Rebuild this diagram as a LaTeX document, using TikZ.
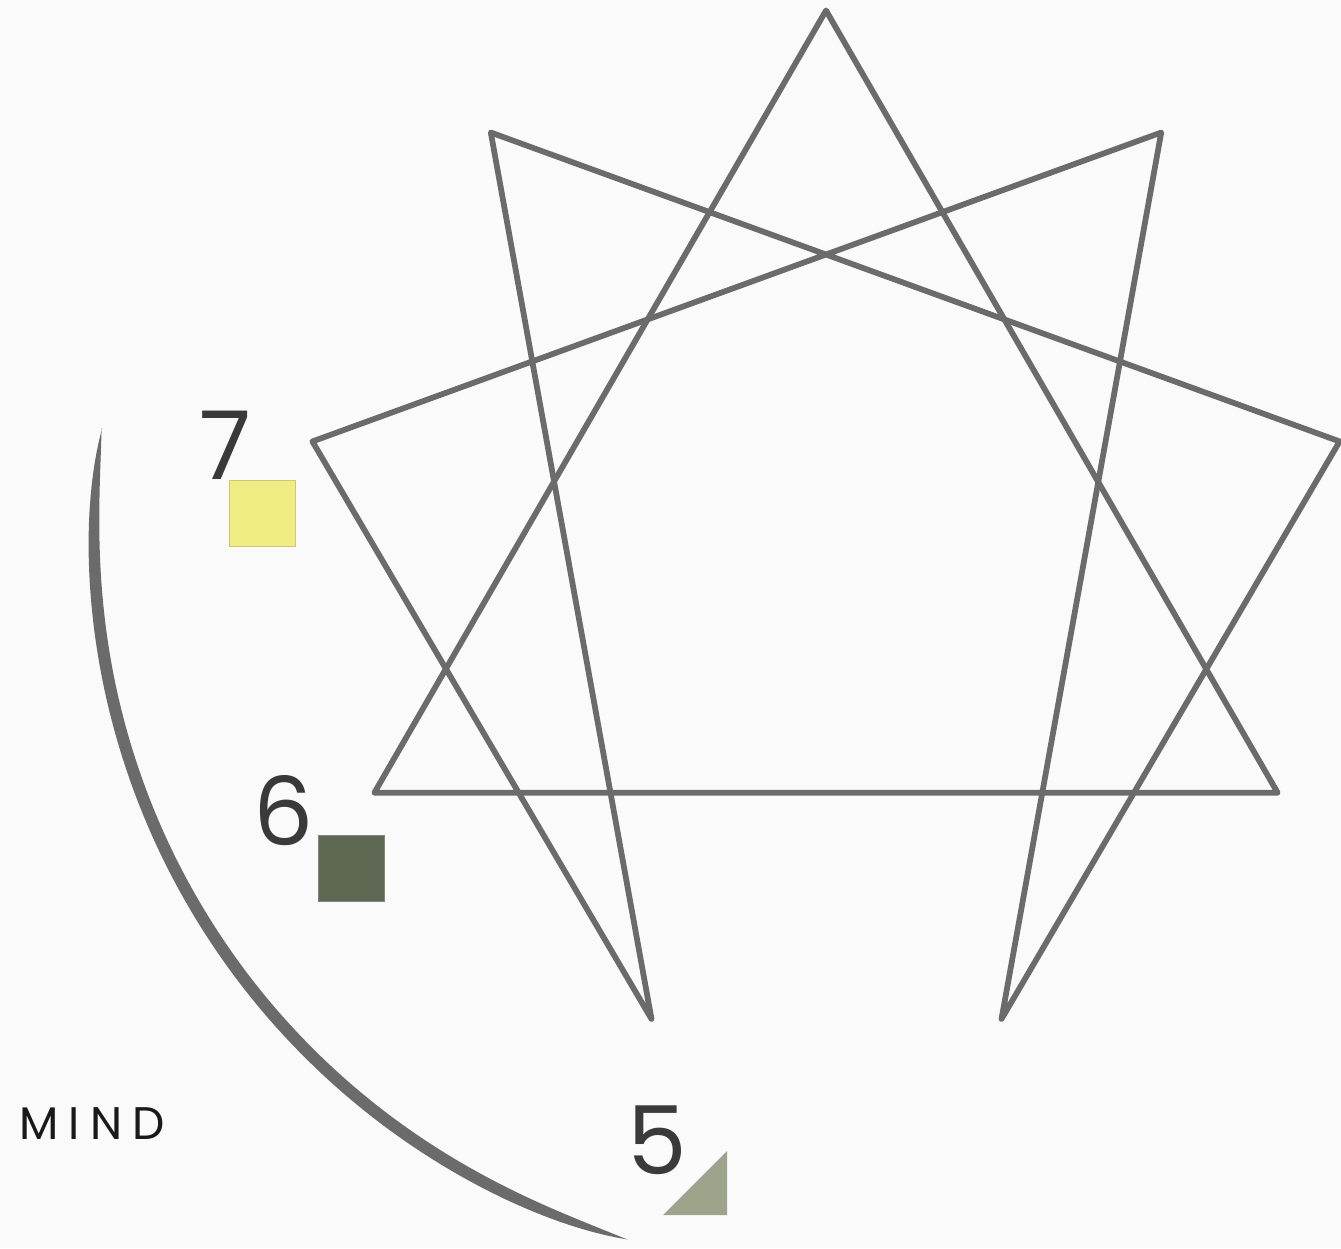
\documentclass[tikz,border=0pt]{standalone}
\usepackage{fontspec}
\setmainfont{Poppins}
\newfontfamily\labelfont[LetterSpace=22]{Poppins}
\usepackage{tikz}
\usetikzlibrary{calc}
\usepackage{xcolor}
\definecolor{starline}{HTML}{6B6B6B}
\definecolor{inkgray}{HTML}{3A3A3A}
\definecolor{tileyellow}{HTML}{F0EC84}
\definecolor{tilegreen}{HTML}{5F6852}
\definecolor{tilesage}{HTML}{9EA48C}
\definecolor{paper}{HTML}{FAFAFA}
\tikzset{
  starpath/.style={draw=starline, line width=0.115cm, line join=round, line cap=round},
  digit/.style={text=inkgray, inner sep=0pt, font=\fontsize{54}{60}\selectfont},
  tile/.style={minimum size=1.32cm, inner sep=0pt, outer sep=0pt},
  brush/.style={fill=starline},
  caption/.style={text=black!90, inner sep=0pt, font=\labelfont\fontsize{26}{30}\selectfont}
}

\begin{document}
\begin{tikzpicture}[x=0.02cm, y=0.02cm,
  declare function={sqt(\a)=((\a-213)/41.25)*((\a-213)/41.25);
                    taper(\a)=1-sqt(\a)*sqt(\a)*sqt(\a)*sqt(\a)*sqt(\a);}]
\fill[paper] (0,0) rectangle (1341,1248);
\useasboundingbox (0,0) rectangle (1341,1248);
% star points
\coordinate (c) at (826,716);
\foreach \i in {0,...,8}
  \coordinate (p\i) at ($(c)+({90-40*\i}:521.5)$);
\coordinate (p4) at (1001.5,229);
\coordinate (p5) at (651.5,229);
\draw[starpath] (p0) -- (p3) -- (p6) -- cycle;
\draw[starpath] (p1) -- (p4) -- (p2) -- (p8) -- (p5) -- (p7) -- cycle;
% brush stroke
\begin{scope}[shift={(826,713)}]
\fill[brush] plot[domain=171.6:254.3, samples=90] (\x:{732+6*taper(\x)})
  -- plot[domain=254.3:171.6, samples=90] (\x:{732-6*taper(\x)}) -- cycle;
\end{scope}
% types
\node[digit] (n7) at (225.5,803) {7};
\node[tile, fill=tileyellow, draw=tileyellow!85!black, line width=0.3pt] (t7) at (262.5,735) {};
\node[digit] (n6) at (284,437) {6};
\node[tile, fill=tilegreen, draw=tilegreen!80!white, line width=0.3pt] (t6) at (351,379.5) {};
\node[digit] (n5) at (657.5,108) {5};
\coordinate (t5) at (727,33);
\fill[tilesage] (t5) -- ++(0,64) -- ++(-64,-64) -- cycle;
\node[caption] (mind) at (92,124) {MIND};
\end{tikzpicture}
\end{document}
